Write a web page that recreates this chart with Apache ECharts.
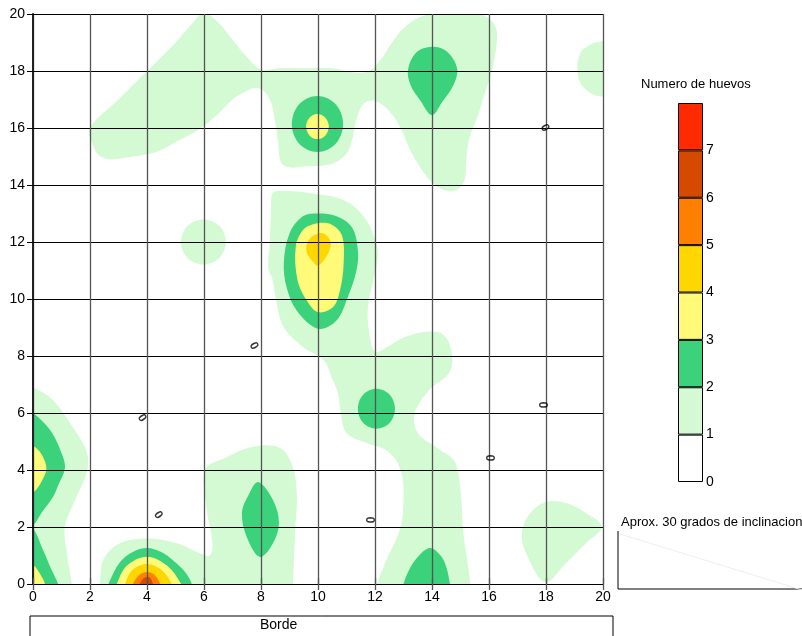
<!DOCTYPE html>
<html>
<head>
<meta charset="utf-8">
<script src="https://cdn.jsdelivr.net/npm/echarts@6/dist/echarts.min.js"></script>
<style>
  html, body { margin: 0; padding: 0; background: #fff; }
  #chart { width: 802px; height: 636px; }
</style>
</head>
<body>
<div id="chart"></div>
<script>
// niveles del mapa de contorno (numero de huevos)
const levelTicks = [0, 1, 2, 3, 4, 5, 6, 7, 8];
const levelColors = ['#ffffff', '#d4fad4', '#3bd27b', '#fffa78', '#ffd700', '#ff8000', '#d64a00', '#ff2a00'];
const axisTicks = [0, 2, 4, 6, 8, 10, 12, 14, 16, 18, 20];

// contornos, en coordenadas del plano (x, y)
const bandTop = [[2.0,16.0],[3.0,17.0],[4.0,18.0],[5.0,19.0],[5.7,19.8],[6.0,20.05],[6.5,19.7],[7.0,19.1],[7.5,18.5],[8.0,18.05],[8.6,18.1],[9.5,18.1],[10.5,18.1],[11.3,17.95],[11.8,18.0],[12.2,18.4],[12.6,19.0],[13.0,19.5],[13.6,19.9],[14.5,20.1],[15.3,20.1],[15.9,19.9],[16.25,19.5],[16.25,18.8],[16.1,18.0],[15.85,17.2],[15.6,16.4],[15.3,15.6],[15.2,14.8],[15.15,14.2],[14.9,13.85],[14.5,13.8],[14.0,14.1],[13.6,14.6],[13.2,15.3],[12.9,16.0],[12.5,16.6],[12.0,16.95],[11.6,16.85],[11.35,16.3],[11.2,15.6],[11.0,15.1],[10.5,14.75],[9.5,14.65],[9.0,14.62],[8.7,14.8],[8.6,15.5],[8.5,16.2],[8.35,16.9],[8.1,17.3],[7.8,17.4],[7.4,17.25],[7.0,17.0],[6.5,16.5],[5.9,16.0],[5.0,15.5],[4.3,15.15],[3.5,15.0],[2.7,14.9],[2.3,15.05],[2.1,15.4]];
const blobRightTop = [[20.3,19.05],[20,19.05],[19.6,18.95],[19.25,18.7],[19.1,18.2],[19.2,17.6],[19.6,17.2],[20,17.1],[20.3,17.1]];
const bandCenter = [[8.4,13.7],[8.7,13.8],[9.7,13.72],[10.9,13.47],[11.6,12.9],[12.0,12.1],[12.1,11.5],[11.95,10.7],[11.75,9.7],[11.8,8.8],[12.0,8.15],[12.4,8.3],[13.0,8.65],[13.8,8.85],[14.4,8.75],[14.7,8.1],[14.6,7.4],[13.9,6.8],[13.4,6.0],[13.5,5.3],[14.3,4.7],[14.8,4.3],[15.0,3.3],[15.1,1.8],[15.27,0.6],[15.35,0],[15.4,-0.3],[12.0,-0.3],[12.07,0],[12.4,0.84],[12.9,2.0],[13.0,3.0],[12.95,3.8],[12.7,4.4],[12.3,4.75],[11.7,4.95],[11.0,5.3],[10.8,6.0],[10.7,6.7],[10.5,7.2],[10.2,7.85],[9.5,8.3],[8.8,9.0],[8.55,9.85],[8.4,10.7],[8.25,11.1],[8.3,11.8],[8.35,13.0]];
const circle6x12 = [[5.98,12.79],[6.54,12.56],[6.77,12.0],[6.54,11.44],[5.98,11.21],[5.42,11.44],[5.19,12.0],[5.42,12.56]];
const edgeLeft = [[-0.3,-0.3],[1.36,-0.3],[1.36,0],[1.2,1.0],[1.12,2.0],[1.5,3.0],[1.88,3.9],[1.9,4.6],[1.4,5.5],[0.7,6.45],[0,6.9],[-0.3,6.95]];
const bottomMid = [[2.3,-0.3],[2.35,0],[2.46,0.84],[3.05,1.43],[4.0,1.6],[5.05,1.43],[5.86,1.08],[6.2,1.0],[6.3,1.43],[6.1,2.6],[6.04,4.0],[6.8,4.46],[7.73,4.82],[8.67,4.77],[9.12,4.1],[9.26,3.05],[9.2,1.9],[9.12,0],[9.1,-0.3]];
const blobRightBottom = [[18.0,2.88],[17.45,2.49],[17.15,1.8],[17.3,1.08],[17.97,0.07],[18.7,0.73],[19.4,1.43],[19.96,2.0],[19.4,2.49],[18.7,2.84]];

const ring10x16 = [[9.98,17.12],[10.62,16.83],[10.88,16.14],[10.62,15.45],[9.98,15.16],[9.34,15.45],[9.08,16.14],[9.34,16.83]];
const drop14x18 = [[14.0,18.85],[14.5,18.7],[14.88,18.1],[14.75,17.5],[14.35,16.9],[14.0,16.45],[13.6,16.95],[13.25,17.5],[13.16,18.05],[13.45,18.65]];
const peak10x11 = [[10.0,13.0],[10.65,12.9],[11.2,12.5],[11.4,11.7],[11.35,11.0],[11.05,10.08],[10.65,9.25],[10.0,8.96],[9.25,9.6],[8.9,10.4],[8.8,11.26],[9.0,12.3],[9.47,12.9]];
const oval12x6 = [[12.05,6.85],[12.51,6.65],[12.7,6.15],[12.51,5.65],[12.05,5.45],[11.59,5.65],[11.4,6.15],[11.59,6.65]];
const dome14x0 = [[12.95,-0.3],[13.0,0],[13.2,0.5],[13.5,0.95],[13.93,1.26],[14.3,1.0],[14.5,0.6],[14.63,0],[14.65,-0.3]];
const leftUpper2 = [[-0.3,6.1],[0,6.0],[0.6,5.4],[1.0,4.6],[1.12,4.07],[0.9,3.5],[0.7,3.05],[0.3,2.5],[0,2.05],[-0.3,2.0]];
const leftLower2 = [[-0.3,2.0],[0,1.95],[0.35,1.2],[0.65,0.5],[0.88,0],[0.95,-0.3],[-0.3,-0.3]];
const peak4x0a = [[2.6,-0.3],[2.65,0],[3.05,0.76],[3.5,1.12],[4.0,1.26],[4.5,1.12],[4.9,0.84],[5.35,0.4],[5.57,0],[5.6,-0.3]];
const leaf8x2 = [[7.9,3.58],[8.42,2.95],[8.63,2.14],[8.42,1.43],[7.96,0.95],[7.5,1.65],[7.33,2.49],[7.55,3.1]];

const core10x16 = [[9.98,16.49],[10.26,16.36],[10.38,16.05],[10.26,15.74],[9.98,15.61],[9.7,15.74],[9.58,16.05],[9.7,16.36]];
const core10x11 = [[10.0,12.66],[10.5,12.6],[10.85,12.2],[10.9,11.25],[10.77,10.3],[10.53,9.72],[10.0,9.54],[9.6,9.96],[9.28,10.67],[9.22,11.84],[9.5,12.45]];
const leftUpper3 = [[-0.3,4.9],[0,4.85],[0.3,4.55],[0.47,4.05],[0.3,3.6],[0,3.2],[-0.3,3.15]];
const leftLower3 = [[-0.3,0.7],[0,0.67],[0.25,0.35],[0.42,0],[0.45,-0.3],[-0.3,-0.3]];
const peak4x0b = [[2.9,-0.3],[2.94,0],[3.3,0.65],[4.0,0.96],[4.7,0.65],[5.2,0],[5.25,-0.3]];

const top10x12 = [[10.0,12.3],[10.28,12.25],[10.45,11.95],[10.3,11.5],[10.0,11.17],[9.83,11.3],[9.6,11.65],[9.66,12.05]];
const peak4x0c = [[3.2,-0.3],[3.23,0],[3.5,0.5],[4.0,0.7],[4.5,0.5],[4.87,0],[4.9,-0.3]];
const peak4x0d = [[3.5,-0.3],[3.51,0],[3.75,0.33],[4.0,0.42],[4.25,0.33],[4.46,0],[4.47,-0.3]];
const peak4x0e = [[3.74,-0.3],[3.75,0],[3.88,0.2],[4.0,0.25],[4.12,0.2],[4.21,0],[4.22,-0.3]];

// etiquetas "0" de las isolineas: [x, y, rotacion]
const zeroLabels = [[3.82,5.82,-55],[4.39,2.42,-55],[7.75,8.35,-60],[11.9,2.25,90],[16.1,4.42,90],[17.96,6.28,90],[17.96,16.0,-60]];

// lista de regiones en orden de nivel (las de mas valor se dibujan encima)
const regions = [
  { level: 1, pts: bandTop }, { level: 1, pts: blobRightTop }, { level: 1, pts: bandCenter },
  { level: 1, pts: circle6x12 }, { level: 1, pts: edgeLeft }, { level: 1, pts: bottomMid },
  { level: 1, pts: blobRightBottom },
  { level: 2, pts: ring10x16 }, { level: 2, pts: drop14x18 }, { level: 2, pts: peak10x11 },
  { level: 2, pts: oval12x6 }, { level: 2, pts: dome14x0 }, { level: 2, pts: leftUpper2 },
  { level: 2, pts: leftLower2 }, { level: 2, pts: peak4x0a }, { level: 2, pts: leaf8x2 },
  { level: 3, pts: core10x16 }, { level: 3, pts: core10x11 }, { level: 3, pts: leftUpper3 },
  { level: 3, pts: leftLower3 }, { level: 3, pts: peak4x0b },
  { level: 4, pts: top10x12 }, { level: 4, pts: peak4x0c },
  { level: 5, pts: peak4x0d },
  { level: 6, pts: peak4x0e }
];

const chart = echarts.init(document.getElementById('chart'), null, { renderer: 'canvas' });
const font = 'Liberation Sans, Arial, sans-serif';

const mainAxis = (extra) => Object.assign({
  type: 'value', min: 0, max: 20, interval: 2, gridIndex: 0
}, extra);

// barra de colores de la leyenda: una barra apilada por nivel
const legendSeries = levelColors.map((c, i) => ({
  type: 'bar', xAxisIndex: 2, yAxisIndex: 2, stack: 'cb',
  data: [levelTicks[i + 1] - levelTicks[i]], barWidth: 25,
  itemStyle: { color: c, borderColor: '#000', borderWidth: 1 },
  silent: true
}));

const option = {
  animation: false,
  backgroundColor: '#fff',
  textStyle: { fontFamily: font },
  grid: [
    { left: 33, top: 14, width: 570, height: 570 },
    { left: 678, top: 103, width: 25, height: 379 }
  ],
  xAxis: [
    mainAxis({
      position: 'bottom',
      axisLine: { show: true, lineStyle: { color: '#000', width: 1 } },
      axisTick: { show: true, length: 6, lineStyle: { color: '#555', width: 1.3 } },
      axisLabel: { color: '#000', fontSize: 14, margin: 6, fontFamily: font },
      splitLine: { show: true, lineStyle: { color: '#555', width: 1.3 } }
    }),
    mainAxis({
      position: 'top',
      axisLine: { show: false },
      axisTick: { show: true, length: 6, lineStyle: { color: '#555', width: 1.3 } },
      axisLabel: { show: false },
      splitLine: { show: false }
    }),
    { type: 'category', gridIndex: 1, data: ['n'], show: false }
  ],
  yAxis: [
    mainAxis({
      position: 'left',
      axisLine: { show: true, lineStyle: { color: '#222', width: 2 } },
      axisTick: { show: true, length: 6, lineStyle: { color: '#000' } },
      axisLabel: { color: '#000', fontSize: 14, margin: 8, fontFamily: font },
      splitLine: { show: true, lineStyle: { color: '#000', width: 1 } }
    }),
    mainAxis({
      position: 'right',
      axisLine: { show: false },
      axisTick: { show: true, length: 6, lineStyle: { color: '#000' } },
      axisLabel: { show: false },
      splitLine: { show: false }
    }),
    {
      type: 'value', gridIndex: 1, position: 'right', min: 0, max: 8, interval: 1,
      axisLine: { show: false }, axisTick: { show: false }, splitLine: { show: false },
      axisLabel: {
        color: '#000', fontSize: 14, margin: 3, fontFamily: font,
        formatter: v => (v < 8 ? String(v) : '')
      }
    }
  ],
  series: [
    {
      type: 'custom',
      xAxisIndex: 0, yAxisIndex: 0,
      z: -1, clip: true, silent: true,
      data: regions.map(r => r.pts[0]),
      renderItem: (params, api) => {
        const r = regions[params.dataIndex];
        return {
          type: 'polygon',
          shape: { points: r.pts.map(p => api.coord(p)), smooth: 0.35 },
          style: { fill: levelColors[r.level], stroke: null }
        };
      }
    },
    {
      type: 'scatter',
      xAxisIndex: 0, yAxisIndex: 0,
      symbolSize: 1, itemStyle: { color: 'rgba(0,0,0,0)' }, silent: true,
      data: zeroLabels.map(z => ({
        value: [z[0], z[1]],
        label: { show: true, formatter: '0', rotate: z[2], position: 'inside', fontSize: 12, fontWeight: 'bold', color: '#000', fontFamily: font }
      }))
    }
  ].concat(legendSeries),
  graphic: [
    { type: 'text', left: 641, top: 78, style: { text: 'Numero de huevos', font: '13px ' + font, fill: '#000' } },
    { type: 'rect', shape: { x: 30, y: 616, width: 583, height: 40 }, style: { fill: 'none', stroke: '#000', lineWidth: 1 } },
    { type: 'text', left: 260, top: 618, style: { text: 'Borde', font: '14px ' + font, fill: '#000' } },
    { type: 'text', left: 621, top: 516, style: { text: 'Aprox. 30 grados de inclinacion', font: '13px ' + font, fill: '#000' } },
    { type: 'polyline', shape: { points: [[618, 531], [618, 589], [802, 589]] }, style: { stroke: '#000', lineWidth: 1, fill: 'none' } },
    { type: 'line', shape: { x1: 620, y1: 534, x2: 802, y2: 590 }, style: { stroke: '#eee', lineWidth: 1 } }
  ]
};

chart.setOption(option);
</script>
</body>
</html>
